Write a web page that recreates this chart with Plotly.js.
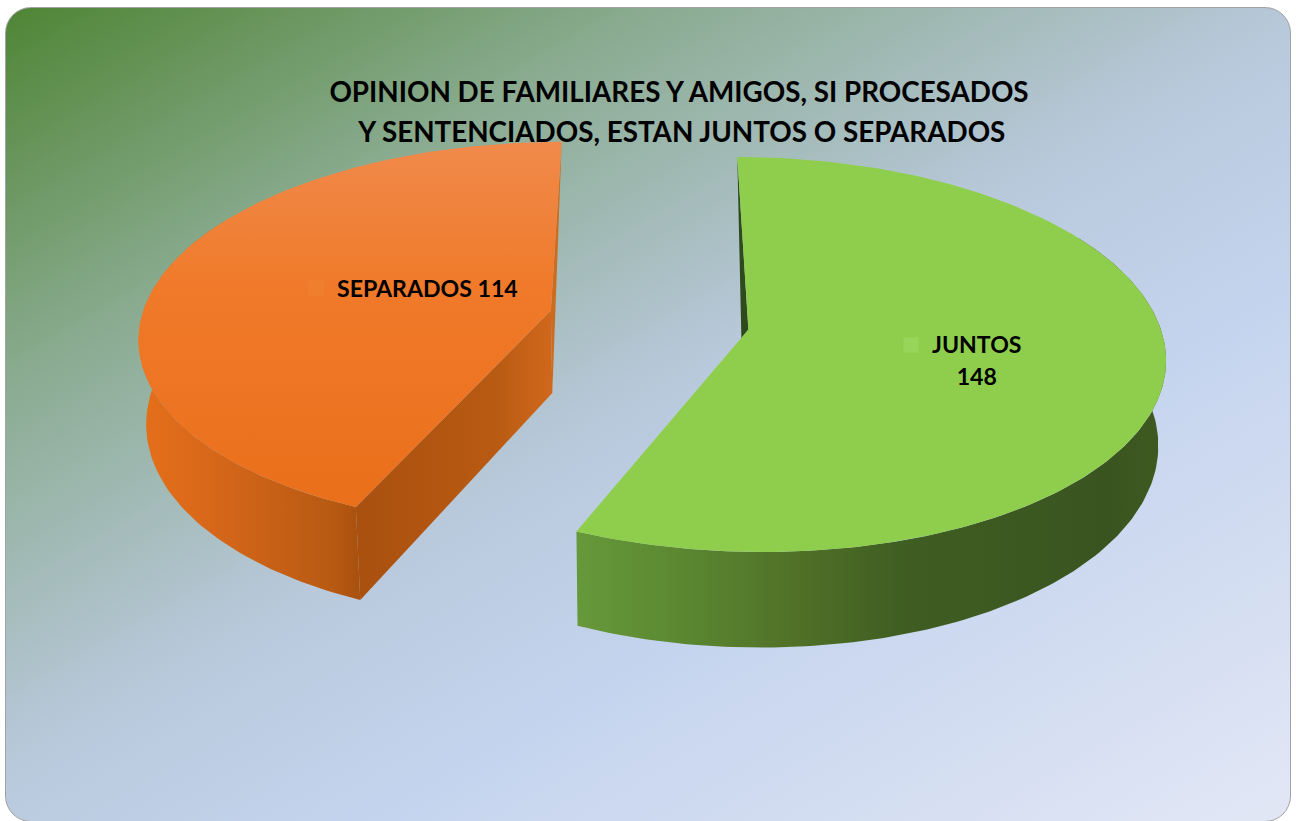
<!DOCTYPE html>
<html>
<head>
<meta charset="utf-8">
<script src="https://cdn.plot.ly/plotly-3.0.1.min.js"></script>
<style>
html, body { margin: 0; padding: 0; background: #fff; overflow: hidden; }
#frame {
    position: absolute; left: 5px; top: 7px; width: 1284px; height: 813px;
    border: 1.5px solid #a2a2a2; border-radius: 26px;
    background: linear-gradient(150deg, #4f8535 0%, #8aab90 24%, #b9c9dc 49%, #c5d4ee 66%, #e2e7f5 100%);
}
#plotArea { position: absolute; left: 0; top: 0; width: 1296px; height: 821px; }
</style>
</head>
<body>
<div id="frame"></div>
<div id="plotArea"></div>
<script>
// DATA
var titleLines = ["OPINION DE FAMILIARES Y AMIGOS, SI PROCESADOS", " Y SENTENCIADOS, ESTAN JUNTOS O SEPARADOS"];
var categories = ["JUNTOS", "SEPARADOS"];
var values = [148, 114];

// 3D LOOK - plotly pies are flat, so the slices are projected from their angles
var cx = 649, cy = 320, rx = 410, ry = 192;
var perspective = 0.125;
var explode = 0.246;
var depth = 83;
var wallShrink = 0.985;

function project(u, v) {
    var s = 1 / (1 - perspective * v);
    return {x: cx + rx * u * s, y: cy + ry * v * s, s: s};
}
function drop(p) {
    return {x: cx + (p.x - cx) * wallShrink, y: p.y + depth * p.s};
}
function sliceArc(from, to, offU, offV) {
    var pts = [];
    var steps = Math.ceil(Math.abs(to - from));
    for (var i = 0; i <= steps; i++) {
        var a = (from + (to - from) * i / steps) * Math.PI / 180;
        pts.push(project(offU + Math.sin(a), offV - Math.cos(a)));
    }
    return pts;
}
function polygon(pts, fillgradient) {
    return {
        x: pts.map(p => p.x), y: pts.map(p => p.y),
        type: "scatter", mode: "lines", line: {width: 0},
        fill: "toself", fillgradient: fillgradient,
        hoverinfo: "skip", showlegend: false
    };
}
function flat(color) {
    return {type: "horizontal", colorscale: [[0, color], [1, color]]};
}

var total = values.reduce((a, b) => a + b, 0);
var juntosEnd = values[0] / total * 360;

// slices move apart along the line through the middle of each one
var mid = juntosEnd / 2 * Math.PI / 180;
var offU = explode * Math.sin(mid), offV = -explode * Math.cos(mid);

var greenArc = sliceArc(0, juntosEnd, offU, offV);
var greenApex = project(offU, offV);
var orangeArc = sliceArc(juntosEnd, 360, -offU, -offV);
var orangeApex = project(-offU, -offV);

var traces = [];

// JUNTOS - only the front of the outer wall shows
var greenWall = sliceArc(60, juntosEnd, offU, offV);
traces.push(polygon(greenWall.concat(greenWall.map(drop).reverse()), {
    type: "horizontal",
    colorscale: [[0, "#66993a"], [0.2, "#5a8530"], [0.38, "#4f7027"], [0.55, "#3f5e22"], [0.9, "#3a5420"], [1, "#3f5a20"]]
}));
traces.push(polygon([greenArc[0], greenApex, {x: greenApex.x - 7, y: greenApex.y + 9}], flat("#2f4a1c")));
traces.push(polygon([greenApex].concat(greenArc), flat("#8fce4d")));

// SEPARADOS
var orangeTip = orangeArc[0], orangeBack = orangeArc[orangeArc.length - 1];
var orangeWall = sliceArc(juntosEnd, 300, -offU, -offV);
traces.push(polygon(orangeWall.concat(orangeWall.map(drop).reverse()), {
    type: "horizontal",
    colorscale: [[0, "#e5701a"], [0.29, "#d9681a"], [0.87, "#b85a12"], [1, "#a9500f"]]
}));
traces.push(polygon([orangeApex, orangeTip, drop(orangeTip), drop(orangeApex)], {
    type: "horizontal",
    colorscale: [[0, "#a9500f"], [0.7, "#b85a12"], [1, "#d0681c"]]
}));
traces.push(polygon([orangeBack, drop(orangeApex), orangeApex], flat("#cc6c20")));
traces.push(polygon([orangeApex].concat(orangeArc), {
    type: "vertical",
    colorscale: [[0, "#ea6f1a"], [0.6, "#f07a2a"], [1, "#f08a4b"]]
}));

// little legend keys in front of the labels
traces.push({
    x: [911, 316], y: [345, 288],
    type: "scatter", mode: "markers",
    marker: {symbol: "square", size: [15, 16], color: ["#9ad860", "#f0822f"], line: {width: 0}},
    hoverinfo: "skip", showlegend: false
});

// the outer font size only sets the line spacing, the span sets the letters
function spaced(lines, size) {
    return lines.map(t => '<span style="font-size:' + size + 'px">' + t + '</span>').join("<br>");
}

var layout = {
    width: 1296, height: 821,
    margin: {l: 0, r: 0, t: 0, b: 0},
    paper_bgcolor: "rgba(0,0,0,0)",
    plot_bgcolor: "rgba(0,0,0,0)",
    title: {
        text: spaced(titleLines, 27.8),
        font: {family: "Lato, sans-serif", size: 31, color: "#000", weight: 700},
        x: 679 / 1296, xanchor: "center", xref: "paper",
        y: 1 - 102 / 821, yanchor: "middle", yref: "paper"
    },
    xaxis: {range: [0, 1296], visible: false, fixedrange: true},
    yaxis: {range: [821, 0], visible: false, fixedrange: true},
    annotations: [
        {x: 977, y: 360, xref: "x", yref: "y", showarrow: false, align: "center",
         text: spaced([categories[0], String(values[0])], 23.1),
         font: {family: "Lato, sans-serif", size: 24.6, color: "#000", weight: 700}},
        {x: 427, y: 288, xref: "x", yref: "y", showarrow: false,
         text: categories[1] + " " + values[1],
         font: {family: "Lato, sans-serif", size: 23.1, color: "#000", weight: 700}}
    ]
};

Plotly.newPlot("plotArea", traces, layout, {displayModeBar: false, staticPlot: true});
</script>
</body>
</html>
